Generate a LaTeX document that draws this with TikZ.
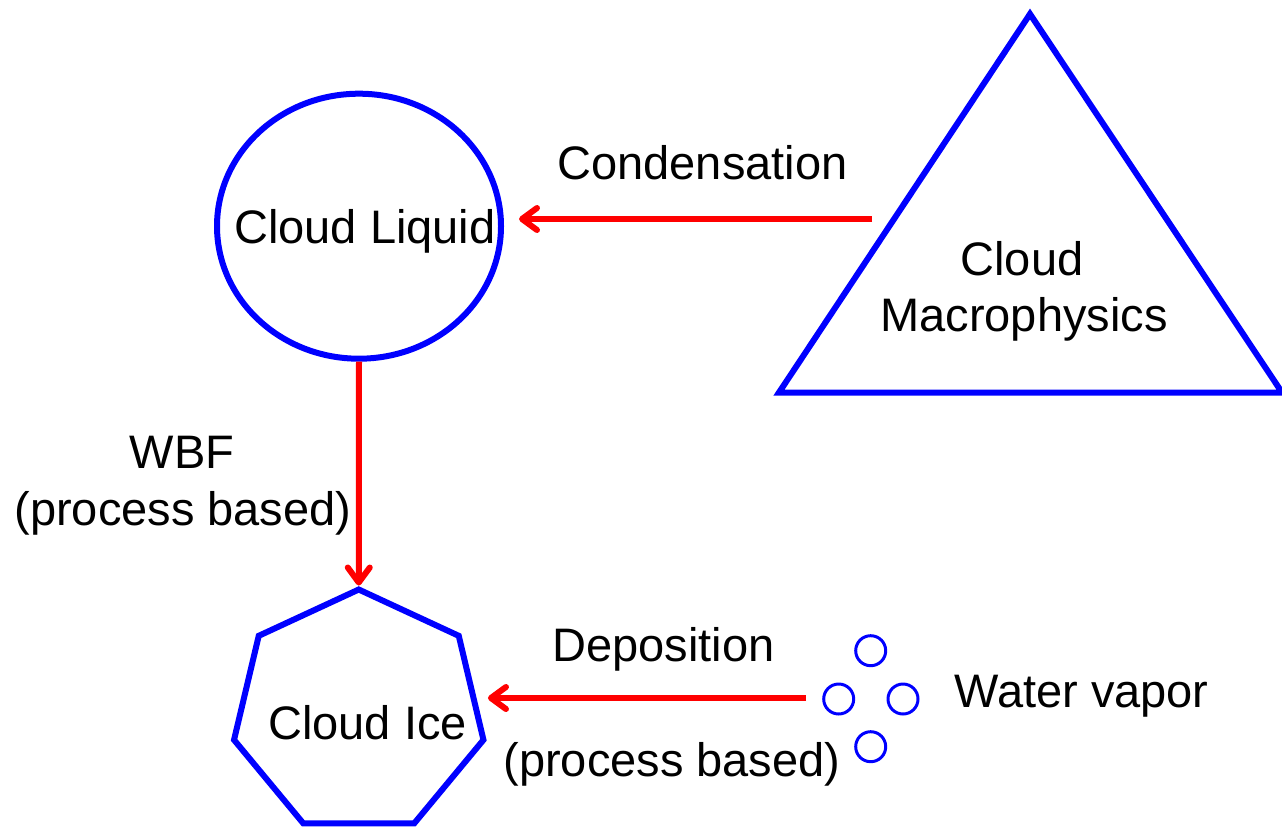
\documentclass[tikz,border=0pt]{standalone}
\usepackage{fontspec}
\setmainfont{Liberation Sans}
\usetikzlibrary{arrows.meta,shapes.geometric,calc}
\definecolor{cblue}{RGB}{0,0,255}
\definecolor{cred}{RGB}{255,0,0}
\begin{document}
\begin{tikzpicture}[x=1pt,y=-1pt,
  every node/.style={inner sep=0pt, outer sep=0pt},
  txt/.style={anchor=base, font=\fontsize{47}{56}\selectfont, text=black},
  shapeline/.style={draw=cblue, line width=6pt, line join=miter},
  vapour/.style={circle, draw=cblue, line width=3pt, minimum size=30pt},
  flow/.style={draw=cred, line width=6pt,
    -{Straight Barb[length=15pt,width=22pt,round]}}]
\useasboundingbox (0,0) rectangle (1282,830);

% Cloud liquid
\node[ellipse, shapeline, minimum width=284pt, minimum height=265pt] (liquid) at (359,226.2) {};
\node[txt] (liquidtxt) at (365,243.3) {Cloud Liquid};

% Cloud macrophysics
\coordinate (macTop) at (1030,14);
\coordinate (macL) at (779,392.5);
\coordinate (macR) at (1282,392.5);
\draw[shapeline] (macTop) -- (macL) -- (macR) -- cycle;
\node[txt] (mac1) at (1022,275) {Cloud};
\node[txt] (mac2) at (1024,331.7) {Macrophysics};

% Cloud ice
\node[regular polygon, regular polygon sides=7, shapeline, minimum size=246pt, xscale=1.04] (ice) at (358.75,712.5) {};
\node[txt] (icetxt) at (367.5,739.3) {Cloud Ice};

% Water vapour
\node[vapour] (v1) at (870.7,650.7) {};
\node[vapour] (v2) at (838.7,699) {};
\node[vapour] (v3) at (903,699) {};
\node[vapour] (v4) at (870.7,746.7) {};
\node[txt] (vaptxt) at (1081.5,707.7) {Water vapor};

% Processes
\coordinate (condS) at (872,219);
\draw[flow, shorten >=18pt] (condS) -- (condS -| liquid.east);
\node[txt] (condtxt) at (702.5,179) {Condensation};

\draw[flow, shorten <=3pt, shorten >=4pt] (liquid.south) -- (ice.corner 1);
\node[txt] (wbf1) at (182,468.3) {WBF};
\node[txt] (wbf2) at (183,525) {(process based)};

\coordinate (depS) at (806,698);
\draw[flow, shorten >=4.5pt] (depS) -- (depS -| ice.corner 6);
\node[txt] (dep1) at (663.5,661.7) {Deposition};
\node[txt] (dep2) at (672,776.7) {(process based)};
\end{tikzpicture}
\end{document}
